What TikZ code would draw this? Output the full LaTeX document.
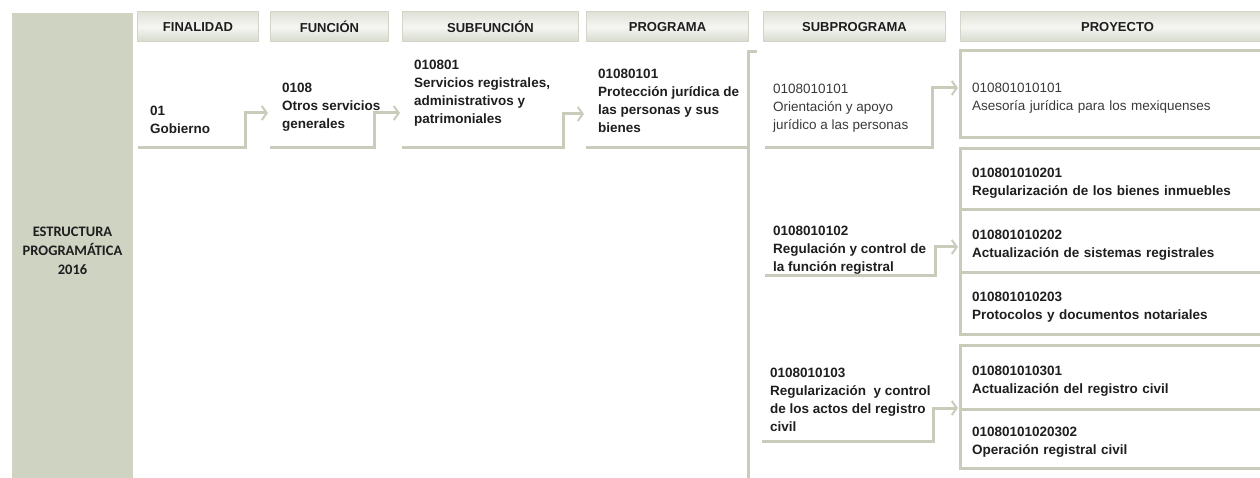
\documentclass[tikz,border=0pt]{standalone}
\usepackage{fontspec}
\setmainfont{Liberation Sans}
\newfontfamily\calibri{Carlito}
\usetikzlibrary{positioning,arrows.meta}

\definecolor{gris}{HTML}{C9CCBA}
\definecolor{panel}{HTML}{CFD3C2}
\definecolor{borde}{HTML}{D2D5C7}
\definecolor{cabsup}{HTML}{E0E2D8}
\definecolor{cabmed}{HTML}{F5F6F2}
\definecolor{cabinf}{HTML}{D6D9CC}
\definecolor{tinta}{HTML}{1E1E1E}
\definecolor{tenue}{HTML}{3A3A3A}

\begin{document}
\begin{tikzpicture}
  [x=1pt,y=-1pt,
    hdr/.style={draw=borde,line width=1pt,top color=cabsup,bottom color=cabinf,middle color=cabmed,
      minimum height=30pt,inner sep=0pt,anchor=west,text=tinta,font=\fontsize{13}{15}\selectfont\bfseries},
    cell/.style={anchor=south west,align=left,inner xsep=12pt,inner ysep=0pt,text=tinta,
      font=\fontsize{13.5}{18}\selectfont\bfseries},
    subcell/.style={cell,inner xsep=8pt},
    plain/.style={text=tenue,font=\fontsize{13.5}{18}\selectfont},
    proj/.style={draw=gris,line width=3pt,outer sep=0pt,anchor=north west,align=left,
      text width=290pt,inner xsep=12pt,inner ysep=0pt,text=tinta,font=\fontsize{13.5}{18}\selectfont\bfseries,
      execute at begin node={\rule{0pt}{17pt}}},
    lnk/.style={draw=gris,line width=3pt},
    arr/.style={lnk,shorten >=2pt,-{Straight Barb[length=5pt,width=14pt,line width=2pt]}},
  ]
  \useasboundingbox (0,0) rectangle (1260,478);
  \clip (0,0) rectangle (1260,478);

  \node[fill=panel,minimum width=121pt,minimum height=466pt,inner sep=0pt,anchor=north west] (pnl) at (12,13) {};
  \node[align=center,text=tinta,font=\calibri\fontsize{14.5}{19}\selectfont\bfseries] (titulo) at (72.5,251)
    {ESTRUCTURA\\PROGRAMÁTICA\\2016};

  \node[hdr,minimum width=121pt] (hfin) at (137,27) {FINALIDAD};
  \node[hdr,minimum width=118pt] (hfun) at (270,27) {FUNCIÓN};
  \node[hdr,minimum width=176pt] (hsub) at (402,27) {SUBFUNCIÓN};
  \node[hdr,minimum width=162pt] (hprg) at (586,27) {PROGRAMA};
  \node[hdr,minimum width=182pt] (hspr) at (763,27) {SUBPROGRAMA};
  \node[hdr,minimum width=314pt] (hpry) at (960,27) {PROYECTO};

  \node[cell,minimum height=56pt] (gob) at (138,148) {01\\Gobierno};
  \node[cell,minimum height=82pt] (fun) at (270,148) {0108\\Otros servicios\\generales};
  \node[cell,minimum height=109pt] (sfn) at (402,148)
    {010801\\Servicios registrales,\\administrativos y\\patrimoniales};
  \node[cell,minimum height=93pt] (prg) at (586,148)
    {01080101\\Protección jurídica de\\las personas y sus\\bienes};

  \node[subcell,plain,minimum height=80pt] (sp1) at (765,148)
    {0108010101\\Orientación y apoyo\\jurídico a las personas};
  \node[subcell,minimum height=50pt] (sp2) at (765,275)
    {0108010102\\Regulación y control de\\la función registral};
  \node[subcell,minimum height=82pt] (sp3) at (762,441)
    {0108010103\\Regularización~ y control\\de los actos del registro\\civil};

  \node[proj,plain,minimum height=87pt] (pr1) at (960,51) {010801010101\\Asesoría jurídica para los mexiquenses};
  \node[proj,minimum height=61pt] (pr2) at (960,149) {010801010201\\Regularización de los bienes inmuebles};
  \node[proj,minimum height=62pt,below=0pt of pr2] (pr3) {010801010202\\Actualización de sistemas registrales};
  \node[proj,minimum height=62pt,below=0pt of pr3] (pr4) {010801010203\\Protocolos y documentos notariales};
  \node[proj,minimum height=64pt] (pr5) at (960,345) {010801010301\\Actualización del registro civil};
  \node[proj,minimum height=59pt,below=0pt of pr5] (pr6) {01080101020302\\Operación registral civil};

  \coordinate (k1) at (245,113);
  \coordinate (k2) at (374,113);
  \coordinate (k3) at (563,114);
  \coordinate (k4) at (932,88);
  \coordinate (k5) at (935,247);
  \coordinate (k6) at (933,408);
  \coordinate (brt) at (757,52);
  \coordinate (brb) at (748,480);

  \draw[arr] (gob.south west) -| (k1) -- (k1 -| fun.west);
  \draw[arr] (fun.south west) -| (k2) -- (k2 -| sfn.west);
  \draw[arr] (sfn.south west) -| (k3) -- (k3 -| prg.west);
  \draw[lnk] (prg.south west) -- (prg.south west -| brb);
  \draw[lnk] (brt) -| (brb);
  \draw[arr] (sp1.south west) -| (k4) -- (k4 -| pr1.west);
  \draw[arr] (sp2.south west) -| (k5) -- (k5 -| pr3.west);
  \draw[arr] (sp3.south west) -| (k6) -- (k6 -| pr6.west);
\end{tikzpicture}
\end{document}
